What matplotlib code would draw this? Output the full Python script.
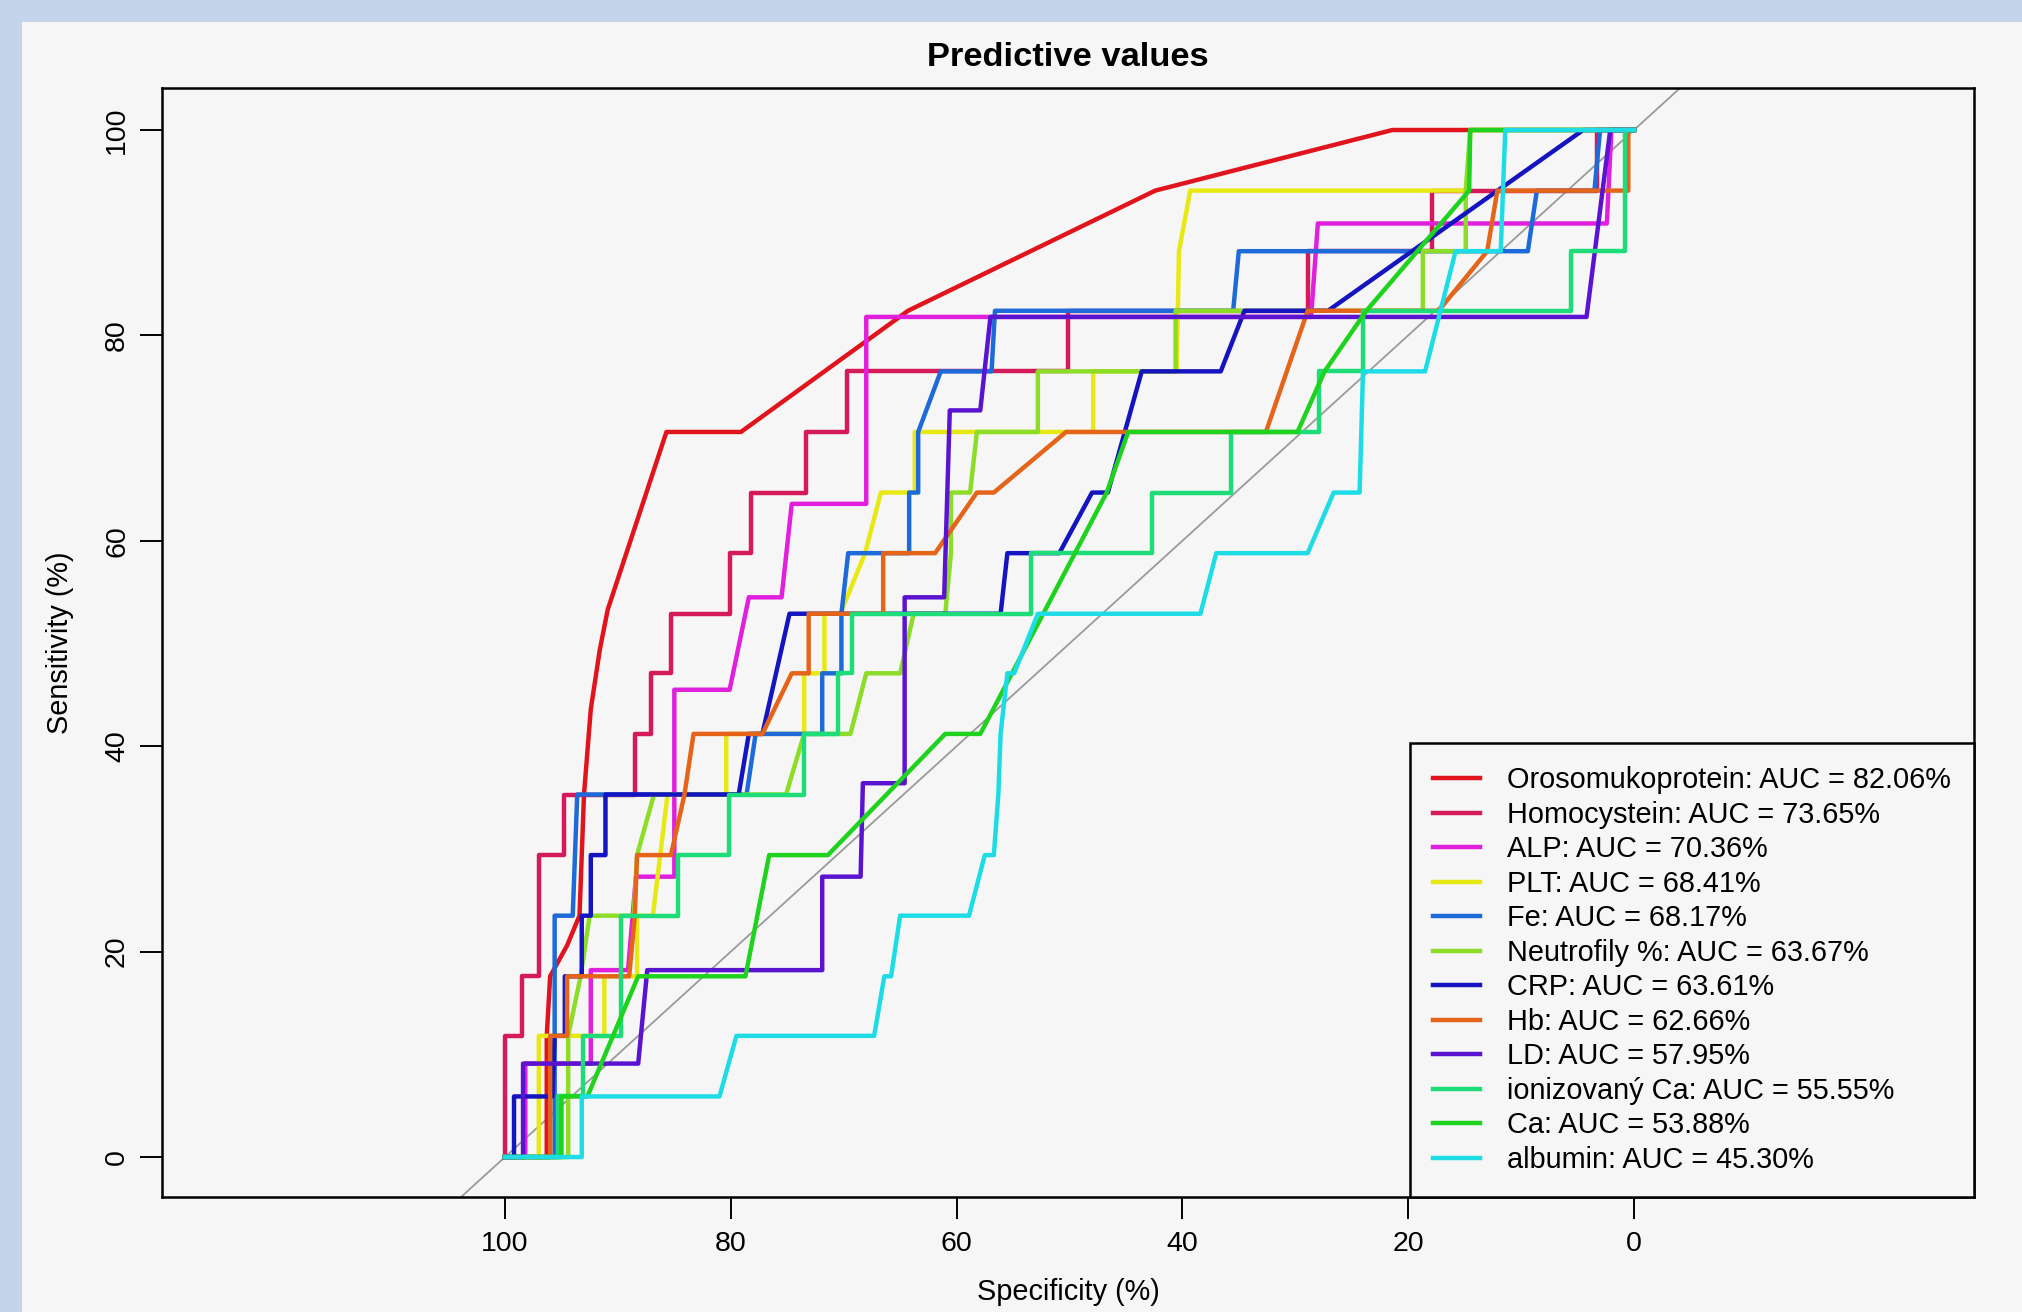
import numpy as np
import matplotlib
matplotlib.use('Agg')
import matplotlib.pyplot as plt
from matplotlib.patches import Rectangle

plt.rcParams['font.family'] = ['Liberation Sans', 'DejaVu Sans']

########## Data (specificity %, sensitivity %) ##########

names = ['Orosomukoprotein', 'Homocystein', 'ALP', 'PLT', 'Fe', 'Neutrofily %',
         'CRP', 'Hb', 'LD', 'ionizovaný Ca', 'Ca', 'albumin']
aucs = [82.06, 73.65, 70.36, 68.41, 68.17, 63.67, 63.61, 62.66, 57.95, 55.55, 53.88, 45.30]
colors = ['#E0141C', '#D41A5A', '#E020DC', '#E8E814', '#1E6AD8', '#8CDC28',
          '#1414C0', '#E4641A', '#5A14D0', '#1EDC78', '#1ED21E', '#1EDCE6']

oroso_spec = [100, 96.3, 96.3, 96.0, 94.5, 93.4, 93.0, 92.4, 91.6, 90.9, 85.7, 79.1, 64.3, 42.4, 21.4, 0]
oroso_sens = [0, 0, 11.8, 17.6, 20.6, 23.5, 35.3, 43.6, 49.4, 53.3, 70.6, 70.6, 82.4, 94.1, 100, 100]

homo_spec = [100, 100, 98.5, 98.5, 97.0, 97.0, 94.8, 94.8, 88.5, 88.5, 87.1, 87.1, 85.3, 85.3, 80.1, 80.1,
             78.2, 78.2, 73.3, 73.3, 69.7, 69.7, 50.1, 50.1, 28.9, 28.9, 17.9, 17.9, 3.3, 3.3, 0]
homo_sens = [0, 11.8, 11.8, 17.6, 17.6, 29.4, 29.4, 35.3, 35.3, 41.2, 41.2, 47.1, 47.1, 52.9, 52.9, 58.8,
             58.8, 64.7, 64.7, 70.6, 70.6, 76.5, 76.5, 82.4, 82.4, 88.2, 88.2, 94.1, 94.1, 100, 100]

alp_spec = [100, 98.2, 98.2, 92.4, 92.4, 89.1, 88.4, 85.0, 85.0, 80.1, 78.4, 75.5, 74.6, 68.0, 68.0, 28.6, 28.0, 2.4, 2.0, 0]
alp_sens = [0, 0, 9.1, 9.1, 18.2, 18.2, 27.3, 27.3, 45.5, 45.5, 54.5, 54.5, 63.6, 63.6, 81.8, 81.8, 90.9, 90.9, 100, 100]

plt_spec = [100, 97.0, 97.0, 91.2, 91.2, 88.3, 88.3, 86.9, 85.6, 80.4, 80.4, 73.5, 73.5, 71.7, 71.7, 70.3, 68.1,
            66.7, 63.7, 63.7, 47.9, 47.9, 40.5, 40.3, 39.3, 14.7, 14.5, 0]
plt_sens = [0, 0, 11.8, 11.8, 17.6, 17.6, 23.5, 23.5, 35.3, 35.3, 41.2, 41.2, 47.1, 47.1, 52.9, 52.9, 58.8,
            64.7, 64.7, 70.6, 70.6, 76.5, 76.5, 88.2, 94.1, 94.1, 100, 100]

fe_spec = [100, 95.6, 95.6, 94.0, 93.6, 78.6, 77.8, 71.9, 71.9, 70.2, 70.2, 69.6, 64.2, 64.2, 63.4, 63.4,
           61.4, 56.9, 56.6, 35.5, 35.0, 9.4, 8.6, 3.5, 3.0, 0]
fe_sens = [0, 0, 23.5, 23.5, 35.3, 35.3, 41.2, 41.2, 47.1, 47.1, 52.9, 58.8, 58.8, 64.7, 64.7, 70.6,
           76.5, 76.5, 82.4, 82.4, 88.2, 88.2, 94.1, 94.1, 100, 100]

neut_spec = [100, 94.4, 94.4, 93.3, 92.5, 88.6, 88.3, 86.8, 75.1, 73.5, 69.4, 68.0, 65.0, 63.8, 61.0, 60.5,
             60.5, 58.8, 58.2, 52.8, 52.8, 40.6, 40.6, 18.7, 18.7, 14.9, 14.9, 14.5, 0]
neut_sens = [0, 0, 11.8, 17.6, 23.5, 23.5, 29.4, 35.3, 35.3, 41.2, 41.2, 47.1, 47.1, 52.9, 52.9, 58.8,
             64.7, 64.7, 70.6, 70.6, 76.5, 76.5, 82.4, 82.4, 88.2, 88.2, 94.1, 100, 100]

crp_spec = [100, 99.2, 99.2, 95.8, 95.6, 94.7, 94.7, 93.2, 93.2, 92.4, 92.4, 91.1, 91.1, 79.3, 78.4, 77.2,
            74.8, 56.1, 55.5, 50.9, 48.0, 46.6, 43.6, 36.6, 34.5, 27.1, 4.5, 0]
crp_sens = [0, 0, 5.9, 5.9, 11.8, 11.8, 17.6, 17.6, 23.5, 23.5, 29.4, 29.4, 35.3, 35.3, 41.2, 41.2,
            52.9, 52.9, 58.8, 58.8, 64.7, 64.7, 76.5, 76.5, 82.4, 82.4, 100, 100]

hb_spec = [100, 96.0, 96.0, 94.5, 94.5, 89.0, 88.5, 88.3, 85.3, 84.1, 83.3, 77.2, 74.6, 73.1, 73.1, 66.5,
           66.5, 61.9, 58.2, 56.7, 50.3, 45.3, 32.6, 28.9, 17.3, 13.0, 12.1, 0.5, 0.5, 0]
hb_sens = [0, 0, 11.8, 11.8, 17.6, 17.6, 23.5, 29.4, 29.4, 35.3, 41.2, 41.2, 47.1, 47.1, 52.9, 52.9,
           58.8, 58.8, 64.7, 64.7, 70.6, 70.6, 70.6, 82.4, 82.4, 88.2, 94.1, 94.1, 100, 100]

ld_spec = [100, 98.4, 98.4, 88.2, 87.4, 71.9, 71.9, 68.5, 68.3, 64.6, 64.6, 61.1, 60.6, 57.9, 57.0, 4.2, 2.1, 0]
ld_sens = [0, 0, 9.1, 9.1, 18.2, 18.2, 27.3, 27.3, 36.4, 36.4, 54.5, 54.5, 72.7, 72.7, 81.8, 81.8, 100, 100]

ionca_spec = [100, 95.3, 95.3, 93.1, 93.1, 89.7, 89.7, 84.7, 84.7, 80.2, 80.2, 73.5, 73.5, 70.5, 70.5, 69.3,
              69.3, 53.4, 53.4, 42.7, 42.7, 35.7, 35.7, 27.9, 27.9, 24.0, 24.0, 5.6, 5.6, 0.8, 0.8, 0]
ionca_sens = [0, 0, 5.9, 5.9, 11.8, 11.8, 23.5, 23.5, 29.4, 29.4, 35.3, 35.3, 41.2, 41.2, 47.1, 47.1,
              52.9, 52.9, 58.8, 58.8, 64.7, 64.7, 70.6, 70.6, 76.5, 76.5, 82.4, 82.4, 88.2, 88.2, 100, 100]

ca_spec = [100, 95.0, 95.0, 92.7, 88.2, 78.7, 76.6, 71.4, 61.0, 57.9, 46.7, 44.8, 29.8, 27.4, 23.7, 14.6, 14.5, 0]
ca_sens = [0, 0, 5.9, 5.9, 17.6, 17.6, 29.4, 29.4, 41.2, 41.2, 64.7, 70.6, 70.6, 76.5, 82.4, 94.1, 100, 100]

alb_spec = [100, 93.2, 93.2, 81.0, 79.5, 67.3, 66.4, 65.8, 65.0, 58.9, 57.5, 56.7, 56.3, 56.1, 55.5, 54.9,
            52.8, 38.4, 37.0, 28.9, 26.6, 24.3, 24.0, 18.5, 15.8, 11.8, 11.4, 0]
alb_sens = [0, 0, 5.9, 5.9, 11.8, 11.8, 17.6, 17.6, 23.5, 23.5, 29.4, 29.4, 35.3, 41.2, 47.1, 47.1,
            52.9, 52.9, 58.8, 58.8, 64.7, 64.7, 76.5, 76.5, 88.2, 88.2, 100, 100]

curves = [(oroso_spec, oroso_sens), (homo_spec, homo_sens), (alp_spec, alp_sens), (plt_spec, plt_sens),
          (fe_spec, fe_sens), (neut_spec, neut_sens), (crp_spec, crp_sens), (hb_spec, hb_sens),
          (ld_spec, ld_sens), (ionca_spec, ionca_sens), (ca_spec, ca_sens), (alb_spec, alb_sens)]

x_ticks = [100, 80, 60, 40, 20, 0]
y_ticks = [0, 20, 40, 60, 80, 100]

########## Figure ##########

W, H = 2022, 1312
fig = plt.figure(figsize=(W / 100, H / 100), dpi=100)
fig.patch.set_facecolor('#c4d5eb')
# light grey panel, blue band only on left and top
fig.add_artist(Rectangle((22 / W, 0), 1, (H - 22) / H, transform=fig.transFigure,
                         facecolor='#f6f6f6', edgecolor='none', zorder=0))

ax = fig.add_axes([162 / W, (H - 1197) / H, (1974 - 162) / W, (1197 - 88) / H])
ax.set_facecolor('#f6f6f6')

ax.axline((100, 0), (0, 100), color='#9a9a9a', lw=1.3, zorder=1)

for i, (sp, se) in enumerate(curves):
    ax.plot(sp, se, color=colors[i], lw=3.2, zorder=2 + i,
            label='%s: AUC = %.2f%%' % (names[i], aucs[i]))

ax.set_xlim(130.38, -30.12)
ax.set_ylim(-3.89, 104.09)

ax.set_xticks(x_ticks)
ax.set_xticklabels([str(t) for t in x_ticks])
ax.set_yticks(y_ticks)
ax.set_yticklabels([str(t) for t in y_ticks])
ax.tick_params(axis='both', length=16, width=1.4, labelsize=20.5, color='black')
ax.tick_params(axis='x', pad=8.5)
ax.tick_params(axis='y', pad=7, labelrotation=90)
for lab in ax.get_yticklabels():
    lab.set_va('center')
for s in ax.spines.values():
    s.set_linewidth(1.8)

ax.set_title('Predictive values', fontsize=24.8, fontweight='bold', pad=16)
ax.set_xlabel('Specificity (%)', fontsize=20.8)
ax.xaxis.set_label_coords(0.5, -95 / 1109)
ax.xaxis.label.set_va('center')
ax.set_ylabel('Sensitivity (%)', fontsize=20.8)
ax.yaxis.set_label_coords(-102 / 1812, 0.5)
ax.yaxis.label.set_va('center')

leg = ax.legend(loc='lower right', borderaxespad=0, fontsize=20.8, fancybox=False,
                edgecolor='black', facecolor='#f6f6f6', framealpha=1,
                handlelength=1.6, handletextpad=0.95, borderpad=0.8, labelspacing=0.225)
leg.get_frame().set_linewidth(1.8)
leg.set_zorder(20)

plt.savefig('out.png', dpi=100, facecolor=fig.get_facecolor())
